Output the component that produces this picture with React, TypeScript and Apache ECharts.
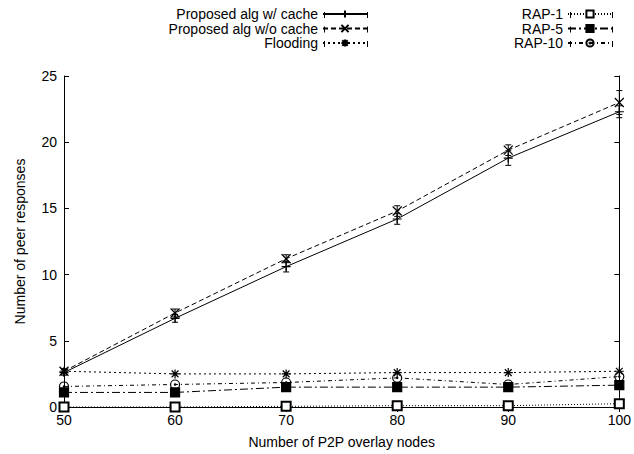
import React, { useEffect, useRef } from "react";
import * as echarts from "echarts";

const nodes = [50, 60, 70, 80, 90, 100];
const withCache = [2.6, 6.7, 10.6, 14.2, 18.8, 22.3];
const withCacheErr = [0.2, 0.3, 0.4, 0.4, 0.55, 0.45];
const withoutCache = [2.7, 7.1, 11.2, 14.8, 19.4, 23.0];
const withoutCacheErr = [0.2, 0.3, 0.3, 0.4, 0.4, 0.9];
const flooding = [2.7, 2.5, 2.5, 2.6, 2.6, 2.7];
const rap1 = [0.0, 0.0, 0.05, 0.1, 0.1, 0.25];
const rap5 = [1.1, 1.1, 1.5, 1.5, 1.5, 1.65];
const rap10 = [1.55, 1.7, 1.85, 2.2, 1.7, 2.3];
const yTicks = [0, 5, 10, 15, 20, 25];
const xTicks = [50, 60, 70, 80, 90, 100];

const FONT = "Liberation Sans, Arial, Helvetica, sans-serif";

const PLUS = "path://M0 4 L8 4 M4 0 L4 8";
const CROSS = "path://M0 0 L8 8 M0 8 L8 0";
const STAR = "path://M4 0 L4 8 M0 4 L8 4 M1 1 L7 7 M1 7 L7 1";
const CIRCLE_DOT =
  "path://M8 4 A4 4 0 1 1 0 4 A4 4 0 1 1 8 4 Z M4.6 4 A0.6 0.6 0 1 1 3.4 4 A0.6 0.6 0 1 1 4.6 4 Z";

export default function App() {
  const ref = useRef<HTMLDivElement>(null);
  useEffect(() => {
    const chart = echarts.init(ref.current!, undefined, { renderer: "svg" });

    const pairs = (ys: number[]) => nodes.map((x, i) => [x, ys[i]]);
    const errData = (ys: number[], es: number[]) =>
      nodes.map((x, i) => [x, ys[i] - es[i], ys[i] + es[i]]);

    const errSeries = (name: string, ys: number[], es: number[]) => ({
      type: "custom",
      name: name + "-err",
      data: errData(ys, es),
      silent: true,
      renderItem: (params: any, api: any) => {
        const x = api.value(0);
        const lo = api.coord([x, api.value(1)]);
        const hi = api.coord([x, api.value(2)]);
        const style = { stroke: "#000", lineWidth: 1 };
        return {
          type: "group",
          children: [
            { type: "line", shape: { x1: lo[0], y1: lo[1], x2: hi[0], y2: hi[1] }, style },
            { type: "line", shape: { x1: lo[0] - 3, y1: lo[1], x2: lo[0] + 3, y2: lo[1] }, style },
            { type: "line", shape: { x1: hi[0] - 3, y1: hi[1], x2: hi[0] + 3, y2: hi[1] }, style },
          ],
        };
      },
      encode: { x: 0, y: [1, 2] },
      z: 3,
    });

    const lineSeries = (
      name: string,
      ys: number[],
      symbol: string,
      dash: any,
      fill: string
    ) => ({
      type: "line",
      name,
      data: pairs(ys),
      symbol,
      symbolSize: 9,
      showAllSymbol: true,
      clip: false,
      lineStyle: { color: "#000", width: 1, type: dash },
      itemStyle: { color: fill, borderColor: "#000", borderWidth: 1.2 },
      emphasis: { disabled: true },
      z: 4,
    });

    const legendItem = (name: string, right: number, top: number) => ({
      data: [name],
      right,
      top,
      orient: "horizontal",
      align: "right",
      padding: 0,
      itemWidth: 44,
      itemHeight: 9,
      selectedMode: false,
      textStyle: { fontFamily: FONT, fontSize: 14, color: "#000" },
    });

    // small end caps on legend samples (gnuplot error-bar style keys)
    const capXs = [324.5, 367.5, 570.5, 612.5];
    const capYs = [15, 29.5, 44];
    const caps: any[] = [];
    capXs.forEach((cx) =>
      capYs.forEach((cy) =>
        caps.push({
          type: "line",
          shape: { x1: cx, y1: cy - 3, x2: cx, y2: cy + 3 },
          style: { stroke: "#000", lineWidth: 1 },
          silent: true,
        })
      )
    );

    const axisLabel = { fontFamily: FONT, fontSize: 14, color: "#000" };

    chart.setOption({
      animation: false,
      backgroundColor: "#fff",
      grid: { left: 64, right: 14, top: 76, bottom: 41, containLabel: false },
      legend: [
        legendItem("Proposed alg w/ cache", 266, 7),
        legendItem("Proposed alg w/o cache", 266, 21.5),
        legendItem("Flooding", 266, 36),
        legendItem("RAP-1", 21, 7),
        legendItem("RAP-5", 21, 21.5),
        legendItem("RAP-10", 21, 36),
      ],
      graphic: caps,
      xAxis: [
        {
          type: "value",
          min: 50,
          max: 100,
          interval: 10,
          position: "bottom",
          name: "Number of P2P overlay nodes",
          nameLocation: "middle",
          nameGap: 28,
          nameTextStyle: { fontFamily: FONT, fontSize: 14, color: "#000" },
          axisLine: { lineStyle: { color: "#000", width: 1 } },
          axisTick: { inside: true, length: 5, lineStyle: { color: "#000" } },
          axisLabel: { ...axisLabel, margin: 6, customValues: xTicks },
          splitLine: { show: false },
        },
        {
          type: "value",
          min: 50,
          max: 100,
          interval: 10,
          position: "top",
          axisLine: { lineStyle: { color: "#000", width: 1 } },
          axisTick: { inside: true, length: 5, lineStyle: { color: "#000" } },
          axisLabel: { show: false },
          splitLine: { show: false },
        },
      ],
      yAxis: [
        {
          type: "value",
          min: 0,
          max: 25,
          interval: 5,
          position: "left",
          name: "Number of peer responses",
          nameLocation: "middle",
          nameGap: 37,
          nameTextStyle: { fontFamily: FONT, fontSize: 14, color: "#000" },
          axisLine: { show: true, lineStyle: { color: "#000", width: 1 } },
          axisTick: { show: true, inside: true, length: 5, lineStyle: { color: "#000" } },
          axisLabel: { ...axisLabel, margin: 7, customValues: yTicks },
          splitLine: { show: false },
        },
        {
          type: "value",
          min: 0,
          max: 25,
          interval: 5,
          position: "right",
          axisLine: { show: true, lineStyle: { color: "#000", width: 1 } },
          axisTick: { show: true, inside: true, length: 5, lineStyle: { color: "#000" } },
          axisLabel: { show: false },
          splitLine: { show: false },
        },
      ],
      series: [
        lineSeries("Proposed alg w/ cache", withCache, PLUS, "solid", "#000"),
        lineSeries("Proposed alg w/o cache", withoutCache, CROSS, [5, 3], "#000"),
        lineSeries("Flooding", flooding, STAR, [2, 3], "#000"),
        lineSeries("RAP-1", rap1, "emptyRect", [1, 2], "#000"),
        lineSeries("RAP-5", rap5, "rect", [8, 3, 2, 3], "#000"),
        lineSeries("RAP-10", rap10, CIRCLE_DOT, [4, 3, 1, 3], "transparent"),
        errSeries("Proposed alg w/ cache", withCache, withCacheErr),
        errSeries("Proposed alg w/o cache", withoutCache, withoutCacheErr),
      ],
    });
    return () => chart.dispose();
  }, []);
  return <div ref={ref} style={{ width: 634, height: 454, position: "absolute", left: 0, top: 0 }} />;
}
